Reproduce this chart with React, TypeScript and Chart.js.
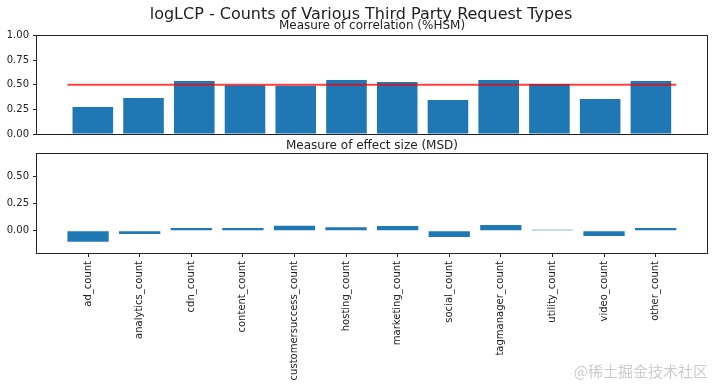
import React, { useEffect, useRef } from "react";
import { Chart, registerables } from "chart.js";

Chart.register(...registerables);

const categories = [
  "ad_count",
  "analytics_count",
  "cdn_count",
  "content_count",
  "customersuccess_count",
  "hosting_count",
  "marketing_count",
  "social_count",
  "tagmanager_count",
  "utility_count",
  "video_count",
  "other_count",
];
const hsmValues = [0.275, 0.366, 0.539, 0.495, 0.49, 0.549, 0.528, 0.346, 0.549, 0.508, 0.356, 0.539];
const msdValues = [-0.101, -0.03, 0.025, 0.025, 0.046, 0.031, 0.043, -0.058, 0.052, 0.009, -0.049, 0.025];
const hsmTicks = [0, 0.25, 0.5, 0.75, 1.0];
const msdTicks = [0, 0.25, 0.5];
const hsmRange = [0, 1];
const msdRange = [-0.205, 0.702];
const hsmXRange = [-1.1, 12.1];
const msdXRange = [-0.99, 11.99];
const threshold = 0.5;
const thresholdSpan = [-0.5, 11.5];

const mainTitle = "logLCP - Counts of Various Third Party Request Types";
const topTitle = "Measure of correlation (%HSM)";
const bottomTitle = "Measure of effect size (MSD)";
const watermark = "@稀土掘金技术社区";

const BAR_COLOR = "#1f77b4";
const INK = "#222222";
const FONT = "'DejaVu Sans', sans-serif";
const BAR_FRACTION = 0.8;

const framePlugin = {
  id: "frame",
  afterDraw(chart: any) {
    const { ctx, chartArea } = chart;
    const l = Math.round(chartArea.left);
    const t = Math.round(chartArea.top);
    const r = Math.round(chartArea.right);
    const b = Math.round(chartArea.bottom);
    ctx.save();
    ctx.strokeStyle = INK;
    ctx.lineWidth = 1;
    ctx.strokeRect(l - 0.5, t - 0.5, r - l + 1, b - t + 1);
    ctx.restore();
  },
};

function yScale(range: number[], ticks: number[]) {
  return {
    type: "linear",
    min: range[0],
    max: range[1],
    afterBuildTicks: (s: any) => {
      s.ticks = ticks.map((v) => ({ value: v }));
    },
    afterFit: (s: any) => {
      s.width = 37;
    },
    ticks: {
      callback: (v: any) => Number(v).toFixed(2),
      font: { family: FONT, size: 10 },
      color: INK,
      padding: 4,
    },
    grid: {
      display: true,
      drawOnChartArea: false,
      drawTicks: true,
      tickLength: 4,
      color: INK,
    },
    border: { display: false },
  };
}

function xScale(showLabels: boolean, range: number[]) {
  return {
    type: "linear",
    min: range[0],
    max: range[1],
    offset: false,
    display: showLabels,
    afterBuildTicks: (s: any) => {
      s.ticks = categories.map((_, i) => ({ value: i }));
    },
    afterFit: (s: any) => {
      if (showLabels) s.height = 133;
    },
    ticks: {
      autoSkip: false,
      minRotation: 90,
      maxRotation: 90,
      callback: (v: any) => categories[Math.round(Number(v))] ?? "",
      font: { family: FONT, size: 10 },
      color: INK,
      padding: 4,
    },
    grid: {
      display: true,
      drawOnChartArea: false,
      drawTicks: true,
      tickLength: 4,
      color: INK,
      offset: false,
    },
    border: { display: false },
  };
}

export default function App() {
  const topRef = useRef<HTMLCanvasElement | null>(null);
  const botRef = useRef<HTMLCanvasElement | null>(null);

  useEffect(() => {
    const lineData = thresholdSpan.map((x) => ({ x, y: threshold }));
    const top = new Chart(topRef.current as HTMLCanvasElement, {
      type: "bar",
      data: {
        datasets: [
          {
            type: "line",
            data: lineData,
            borderColor: "rgba(255,0,0,0.75)",
            borderWidth: 2,
            pointRadius: 0,
            fill: false,
            order: 0,
          } as any,
          {
            type: "bar",
            data: hsmValues.map((v, i) => ({ x: i, y: v })),
            backgroundColor: BAR_COLOR,
            borderWidth: 0,
            barPercentage: BAR_FRACTION,
            categoryPercentage: 1,
            order: 1,
          } as any,
        ],
      },
      options: {
        responsive: false,
        animation: false,
        layout: { padding: { top: 35.6, bottom: 16, left: 0, right: 9.3 } },
        plugins: { legend: { display: false }, tooltip: { enabled: false }, title: { display: false } },
        scales: { x: xScale(false, hsmXRange), y: yScale(hsmRange, hsmTicks) } as any,
      },
      plugins: [framePlugin],
    });
    const bot = new Chart(botRef.current as HTMLCanvasElement, {
      type: "bar",
      data: {
        datasets: [
          {
            type: "bar",
            data: msdValues.map((v, i) => ({ x: i, y: v })),
            backgroundColor: BAR_COLOR,
            borderWidth: 0,
            barPercentage: BAR_FRACTION,
            categoryPercentage: 1,
          } as any,
        ],
      },
      options: {
        responsive: false,
        animation: false,
        layout: { padding: { top: 13.3, bottom: 0, left: 0, right: 9.3 } },
        plugins: { legend: { display: false }, tooltip: { enabled: false }, title: { display: false } },
        scales: { x: xScale(true, msdXRange), y: yScale(msdRange, msdTicks) } as any,
      },
      plugins: [framePlugin],
    });
    return () => {
      top.destroy();
      bot.destroy();
    };
  }, []);

  const textBase: React.CSSProperties = {
    position: "absolute",
    fontFamily: FONT,
    lineHeight: 1,
    color: INK,
    whiteSpace: "nowrap",
  };

  return (
    <div
      style={{
        position: "absolute",
        left: 0,
        top: 0,
        width: 716,
        height: 386,
        background: "#ffffff",
        overflow: "hidden",
      }}
    >
      <canvas ref={topRef} width={716} height={150} style={{ position: "absolute", left: 0, top: 0, display: "block" }} />
      <canvas ref={botRef} width={716} height={245} style={{ position: "absolute", left: 0, top: 141, display: "block" }} />
      <div style={{ ...textBase, left: 0, width: 722, top: 5.5, textAlign: "center", fontSize: 16 }}>{mainTitle}</div>
      <div style={{ ...textBase, left: 37, width: 670, top: 19.1, textAlign: "center", fontSize: 12 }}>{topTitle}</div>
      <div style={{ ...textBase, left: 37, width: 670, top: 139.2, textAlign: "center", fontSize: 12 }}>{bottomTitle}</div>
      <div
        style={{
          ...textBase,
          right: 8,
          top: 363,
          fontSize: 15,
          fontFamily: "'Noto Sans CJK SC', sans-serif",
          color: "rgba(160,160,160,0.55)",
        }}
      >
        {watermark}
      </div>
    </div>
  );
}
